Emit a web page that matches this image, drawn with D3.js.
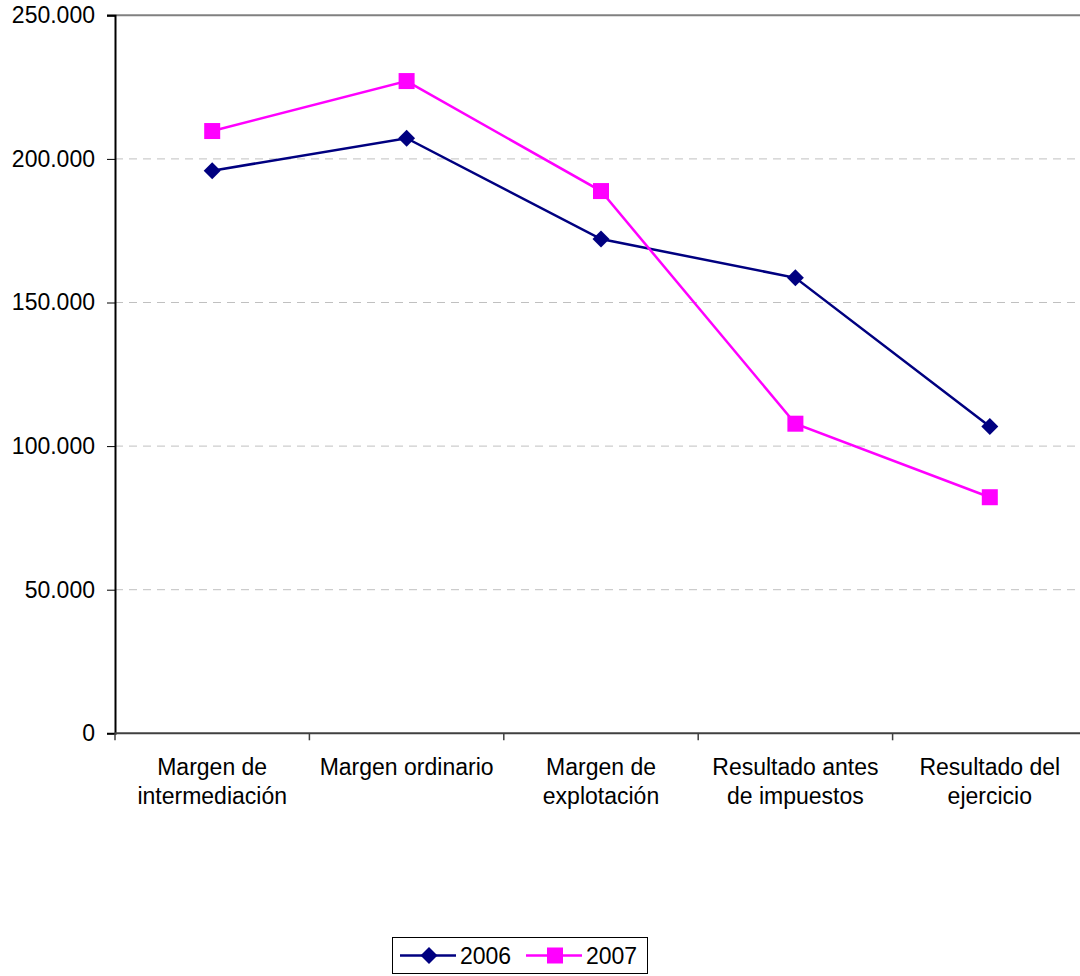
<!DOCTYPE html>
<html><head><meta charset="utf-8">
<script src="https://cdn.jsdelivr.net/npm/d3@7"></script>
<style>html,body{margin:0;padding:0;background:#fff;}svg{display:block;font-family:"Liberation Sans",Arial,sans-serif;}</style>
</head><body>
<svg id="c" width="1080" height="976"></svg>
<script>
const categories = [["Margen de","intermediación"],["Margen ordinario"],["Margen de","explotación"],["Resultado antes","de impuestos"],["Resultado del","ejercicio"]];
const series2006 = [195900, 207200, 172100, 158600, 106800];
const series2007 = [209700, 227100, 188800, 107800, 82200];
const yTicks = [0, 50000, 100000, 150000, 200000, 250000];
const seriesNames = ["2006", "2007"];

(function(){
const svg = d3.select("#c");
const FS = 23;
const pLeft = 115, pTop = 15.3, pBottom = 733.3, bandW = 194.4;
const pRight = pLeft + bandW * categories.length;
const x = d3.scaleBand().domain(d3.range(categories.length)).range([pLeft, pRight]).padding(0);
const y = d3.scaleLinear().domain([0, 250000]).range([pBottom, pTop]);
const fmt = v => v === 0 ? "0" : d3.format(",")(v).replace(/,/g, ".");

// gridlines
svg.append("g").selectAll("line").data(yTicks.filter(t => t > 0 && t < 250000)).join("line")
  .attr("x1", pLeft).attr("x2", 1080).attr("y1", d => y(d)).attr("y2", d => y(d))
  .attr("stroke", "#c0c0c0").attr("stroke-width", 1).attr("stroke-dasharray", "8,6");
// top border
svg.append("line").attr("x1", pLeft - 8).attr("x2", 1080).attr("y1", y(250000)).attr("y2", y(250000))
  .attr("stroke", "#808080").attr("stroke-width", 2);

// y axis
const yAxis = d3.axisLeft(y).tickValues(yTicks).tickFormat(fmt).tickSize(8).tickPadding(12);
const gy = svg.append("g").attr("transform", `translate(${pLeft},0)`).call(yAxis);
gy.attr("font-size", FS).attr("font-family", "Liberation Sans, Arial, sans-serif");
gy.select(".domain").attr("stroke", "#000").attr("stroke-width", 2);
gy.selectAll(".tick line").attr("stroke", "#000");
gy.selectAll("text").attr("fill", "#000");

// x axis
const xTickScale = d3.scaleLinear().domain([0, categories.length]).range([pLeft, pRight]);
const gx = svg.append("g").attr("transform", `translate(0,${pBottom})`);
gx.append("line").attr("x1", pLeft).attr("x2", 1080).attr("stroke", "#404040").attr("stroke-width", 2);
gx.selectAll("line.t").data(d3.range(categories.length + 1)).join("line").attr("class", "t")
  .attr("x1", d => xTickScale(d)).attr("x2", d => xTickScale(d)).attr("y1", 0).attr("y2", 7)
  .attr("stroke", "#404040").attr("stroke-width", 1.5);
const labels = gx.selectAll("text.c").data(categories).join("text").attr("class", "c")
  .attr("text-anchor", "middle").attr("font-size", FS).attr("fill", "#000");
labels.each(function(d, i) {
  const t = d3.select(this);
  d.forEach((ln, j) => {
    t.append("tspan").attr("x", x(i) + x.bandwidth() / 2).attr("y", 42 + j * 28.5).text(ln);
  });
});

// lines
const line = d3.line().x((d, i) => x(i) + x.bandwidth() / 2).y(d => y(d));
const colors = ["#000080", "#ff00ff"];
const data = [series2006, series2007];
data.forEach((s, k) => {
  svg.append("path").datum(s).attr("d", line).attr("fill", "none")
    .attr("stroke", colors[k]).attr("stroke-width", 2.5);
});
function marker(g, k, cx, cy) {
  if (k === 0) {
    g.append("path").attr("d", d3.symbol(d3.symbolSquare, 144)()).attr("transform", `translate(${cx},${cy}) rotate(45)`).attr("fill", colors[0]);
  } else {
    g.append("rect").attr("x", cx - 8).attr("y", cy - 8).attr("width", 16).attr("height", 16).attr("fill", colors[1]);
  }
}
data.forEach((s, k) => {
  const g = svg.append("g");
  s.forEach((v, i) => marker(g, k, x(i) + x.bandwidth() / 2, y(v)));
});

// legend
const lg = svg.append("g");
lg.append("rect").attr("x", 392.5).attr("y", 937.5).attr("width", 255).attr("height", 36)
  .attr("fill", "#fff").attr("stroke", "#000").attr("stroke-width", 1);
const lx = [400, 526];
seriesNames.forEach((n, k) => {
  lg.append("line").attr("x1", lx[k]).attr("x2", lx[k] + 56).attr("y1", 955.5).attr("y2", 955.5)
    .attr("stroke", colors[k]).attr("stroke-width", 2.5);
  marker(lg, k, lx[k] + 29, 955.5);
  lg.append("text").attr("x", lx[k] + 60).attr("y", 963.5).attr("font-size", FS).attr("fill", "#000").text(n);
});
})();
</script>
</body></html>
